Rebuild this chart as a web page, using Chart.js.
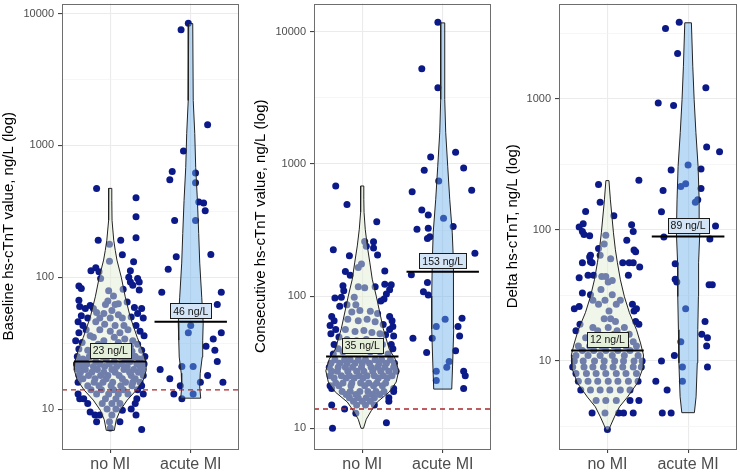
<!DOCTYPE html>
<html><head><meta charset="utf-8">
<script src="https://cdn.jsdelivr.net/npm/chart.js@4.4.1/dist/chart.umd.min.js"></script>
<style>
html,body{margin:0;padding:0;background:#fff;}
#wrap{position:relative;width:740px;height:473px;overflow:hidden;background:#fff;}
canvas{position:absolute;top:0;}
</style></head><body>
<div id="wrap">
<canvas id="c1" width="245" height="473" style="left:0px;width:245px;height:473px"></canvas>
<canvas id="c2" width="250" height="473" style="left:245px;width:250px;height:473px"></canvas>
<canvas id="c3" width="250" height="473" style="left:490px;width:250px;height:473px"></canvas>
</div>
<script>
// ---------- DATA ----------
const categories = ['no MI', 'acute MI'];
const axisTitles = ['Baseline hs-cTnT value, ng/L (log)', 'Consecutive hs-cTnT value, ng/L (log)', 'Delta hs-cTnT, ng/L (log)'];
const yTicksBaseline = [10, 100, 1000, 10000];
const yTicksConsecutive = [10, 100, 1000, 10000];
const yTicksDelta = [10, 100, 1000];
const mediansBaseline = [23, 46];
const mediansConsecutive = [35, 153];
const mediansDelta = [12, 89];
const referenceLimit = 14; // ng/L dashed line (baseline & consecutive)

// points: [jitter offset from category, value ng/L]
const baselineNoMI = [
[-0.17,472],[0.32,400],[0.32,287],[-0.15,191],[0.13,191],[0.32,199],[-0.01,178],[0.15,148],[0.29,131],[-0.01,132],[-0.24,112],[-0.18,118],[-0.14,110],[-0.12,98],[0.25,112],[0.23,100],[0.25,92],[0.28,87],[0.34,98],[-0.39,86],[-0.36,82],[0.16,81],[0.36,80],[-0.02,79],[0.04,72],[-0.39,67],[-0.03,66],[-0.06,62],[0.06,62],[0.10,63],[0.21,65],[-0.31,58],[-0.21,58],[0.30,59],[0.39,58],[0.36,92],
[-0.38,60],[-0.25,61],[-0.17,54],[-0.36,51],[-0.28,49],[0.34,53],[0.41,49],[0.26,50],[0.02,56],[-0.08,53],[0.10,52],[-0.13,49],[0.15,49],[0.00,49],
[-0.40,46],[-0.34,43],[-0.39,38],[-0.30,40],[-0.25,36],[-0.43,33],[-0.35,32],[0.32,43],[0.37,39],[0.42,36],[0.28,33],[0.34,31],[-0.18,46],[-0.07,44],[0.06,43],[0.17,43],[-0.13,40],[0.00,39],[0.12,38],[0.22,40],[-0.21,35],[-0.08,33],[0.05,35],[0.18,34],[-0.15,31],[0.10,32],[0.25,30],
[-0.39,28.5],[-0.41,25],[-0.36,23.5],[0.39,28],[0.43,25],[0.37,23.5],[-0.28,28],[-0.25,25],[0.27,27.5],[0.31,25],[-0.31,23],[0.20,23.5],[-0.13,27],[0.00,26],[0.12,28],
[-0.26,25],[-0.10,25],[0.12,25],[0.30,25],[-0.34,24],[-0.05,24],[0.18,24],[0.36,24],[-0.38,23],[-0.18,23],[0.05,23],[0.25,23],
[-0.42,22],[-0.29,22],[-0.13,22],[-0.01,22],[0.14,22],[0.33,22],[0.42,22],[-0.36,21],[-0.21,21],[-0.07,21],[0.08,21],[0.21,21],[0.37,21],
[-0.40,20],[-0.31,20],[-0.16,20],[0.02,20],[0.17,20],[0.29,20],[0.40,20],[-0.37,19],[-0.23,19],[-0.08,19],[0.06,19],[0.24,19],[0.35,19],
[-0.39,18],[-0.27,18],[-0.12,18],[-0.03,18],[0.11,18],[0.26,18],[0.41,18],[-0.34,17],[-0.19,17],[-0.05,17],[0.15,17],[0.31,17],
[-0.40,16],[-0.20,16],[-0.09,16],[0.03,16],[0.19,16],[0.28,16],[0.37,16],[-0.28,15],[-0.14,15],[0.01,15],[0.13,15],[0.27,15],[0.39,15],
[-0.24,14],[-0.11,14],[0.04,14],[0.16,14],[0.34,14],[-0.40,13],[-0.17,13],[-0.02,13],[0.10,13],[0.22,13],[0.41,13],
[-0.38,12],[-0.33,12],[-0.06,12],[0.07,12],[0.33,12],[-0.28,11],[-0.10,11],[0.02,11],[0.12,11],[0.31,11],
[0.07,10],[0.26,10],[-0.04,10],[-0.19,9],[-0.13,9],[0.02,9],[0.32,9],[-0.25,9.5],[-0.17,8],[0.12,8],[0.15,9.8],[-0.01,8],[0.39,7],[0.00,7.2]
];
const baselineAcuteMI = [
[-0.12,7530],[-0.03,8450],[-0.09,906],[0.21,1436],[-0.23,635],[-0.26,550],[0.06,617],[0.06,521],[0.10,372],[0.16,365],[0.18,320],[-0.20,269],[0.06,269],[-0.18,143],[0.25,149],[-0.28,115],[-0.36,77],[0.38,77],[0.33,62],[0.00,43],[-0.03,38],[0.28,34],[0.38,38],[0.19,30],[0.30,28],[0.33,23],[-0.38,20],[-0.11,21],[0.03,21],[0.21,18],[-0.26,17],[-0.13,15],[0.12,16],[0.40,16],[-0.21,13],[0.03,13],[-0.11,12]
];
const consecutiveNoMI = [
[-0.33,682],[-0.19,493],[0.18,366],[-0.36,224],[-0.16,202],[0.14,258],[0.14,231],[0.19,205],[0.28,155],[-0.21,154],[-0.15,144],[-0.24,120],[-0.23,110],[0.16,118],[0.28,123],[0.36,122],[0.34,112],[0.30,104],[0.27,95],[0.23,92],[-0.34,97],[-0.26,98],[-0.28,84],[-0.19,86],
[0.03,259],[0.05,239],[-0.01,175],[-0.05,165],[-0.05,118],[0.03,116],[-0.10,98],[-0.08,86],
[-0.38,70],[-0.35,65],[-0.40,60],[-0.33,56],[-0.39,52],[-0.29,49],[-0.35,43],[-0.30,40],[-0.36,36.5],
[0.34,70],[0.37,65],[0.38,59],[0.34,56],[0.39,50],[0.36,43],[0.38,40],
[-0.13,76],[-0.03,78],[0.10,77],[0.19,74],[-0.18,67],[-0.05,65],[0.06,67],[0.16,64],[0.26,61],[-0.21,56],[-0.09,54],[0.02,55],[0.12,53],[0.22,52],[0.29,51],[-0.19,47],[-0.07,46],[0.05,47],[0.15,45],[0.25,43],[-0.24,38],[-0.13,40],[-0.02,39],[0.10,38],[0.22,38],[0.32,36.5],
[-0.34,33],[-0.22,33],[-0.15,33],[-0.05,33],[0.04,33],[0.16,33],[0.24,33],[0.35,33],
[-0.39,31],[-0.28,31],[-0.19,31],[-0.09,31],[0.00,31],[0.09,31],[0.21,31],[0.30,31],[0.40,31],
[-0.41,29],[-0.30,29],[-0.21,29],[-0.12,29],[-0.01,29],[0.11,29],[0.19,29],[0.28,29],[0.39,29],
[-0.38,27],[-0.31,27],[-0.18,27],[-0.07,27],[0.02,27],[0.13,27],[0.23,27],[0.33,27],[0.42,27],
[-0.40,25],[-0.26,25],[-0.16,25],[-0.04,25],[0.06,25],[0.15,25],[0.26,25],[0.37,25],
[-0.35,24],[-0.20,24],[-0.10,24],[0.01,24],[0.20,24],[0.31,24],
[-0.33,22],[-0.24,22],[-0.13,22],[-0.02,22],[0.08,22],[0.18,22],[0.29,22],
[-0.29,21],[-0.14,21],[0.03,21],[0.14,21],[0.25,21],
[-0.25,19],[-0.15,19],[-0.03,19],[0.07,19],[0.17,19],[0.27,19],
[-0.20,18],[-0.08,18],[0.12,18],[0.22,18],[-0.16,17],[-0.05,17],[0.05,17],[0.15,17],[-0.11,16],[0.00,16],[0.10,16],[-0.07,15],[0.04,15],
[-0.40,21],[-0.38,20],[0.39,20],[0.39,19],[0.33,17],[0.33,16],[-0.38,15],[-0.22,14],[-0.08,13],[0.15,15],[0.30,11],[-0.37,10]
];
const consecutiveAcuteMI = [
[-0.06,11830],[-0.26,5260],[-0.06,3780],[-0.15,1130],[0.16,1225],[-0.23,896],[0.26,933],[-0.05,744],[-0.38,618],[0.36,632],[-0.26,449],[-0.18,412],[0.01,389],[0.13,337],[-0.32,321],[-0.18,326],[-0.16,282],[-0.19,273],[0.40,211],[-0.39,145],[-0.19,127],[-0.24,108],[-0.18,102],[0.03,67],[-0.08,59],[0.24,68],[0.19,59],[-0.37,48],[-0.13,48],[0.21,50],[-0.20,37.5],[0.16,38.6],[0.08,32],[0.05,29],[-0.08,27],[0.26,27],[0.28,25],[0.26,20],[-0.08,23]
];
const deltaNoMI = [
[-0.11,221],[-0.09,162],[0.39,238],[-0.27,138],[0.08,128],[0.30,109],[0.32,97],[-0.02,91],[-0.35,105],[-0.30,111],[-0.31,97],[-0.29,92],[-0.22,90],[0.24,83],[-0.04,78],[-0.21,64],[-0.22,62],[0.33,70],[0.35,68],[-0.09,64],[-0.11,72],
[-0.31,56],[-0.21,57],[-0.19,56],[0.19,56],[0.27,56],[0.32,56],[0.40,52],[-0.35,43],[-0.24,45],[-0.17,45],[0.26,45],[-0.31,33],[-0.21,32],[-0.18,29],[-0.41,25],[-0.35,26],[0.31,27],[0.33,24],[0.36,25],[0.35,20],[0.39,19],[-0.34,19],[-0.39,17],
[0.04,60],[-0.07,44],[-0.02,44],[0.06,41],[0.02,24],[-0.04,21],[0.04,21],[0.10,20],[-0.18,18],[-0.12,17],[0.01,18],[0.12,17],[0.21,18],[-0.27,15],[-0.19,14],[-0.10,15],[-0.02,15],[0.08,16],[0.19,15],[0.27,16],[0.32,14],[-0.08,35],[0.06,32],[-0.03,29],[-0.11,27],[0.11,27],[0.01,40],[0.16,29],
[-0.36,13],[-0.22,13],[-0.07,13],[0.08,13],[0.23,13],[0.36,13],
[-0.31,12],[-0.17,12],[-0.02,12],[0.13,12],[0.28,12],
[-0.39,11],[-0.24,11],[-0.09,11],[0.06,11],[0.21,11],[0.38,11],
[-0.41,10],[-0.30,10],[-0.16,10],[-0.04,10],[0.09,10],[0.20,10],[0.33,10],[0.43,10],
[-0.43,9],[-0.29,9],[-0.18,9],[-0.05,9],[0.07,9],[0.19,9],[0.32,9],[0.42,9],
[-0.39,8],[-0.26,8],[-0.14,8],[-0.02,8],[0.11,8],[0.23,8],[0.36,8],
[-0.36,7],[-0.24,7],[-0.12,7],[0.01,7],[0.13,7],[0.26,7],[0.38,7],
[-0.33,6],[-0.21,6],[-0.09,6],[0.03,6],[0.16,6],[0.28,6],
[-0.14,5],[-0.02,5],[0.11,5],[0.28,5],[0.39,5],
[-0.19,4],[-0.03,4],[0.14,4],[0.20,4],[0.32,4],[0.00,3]
];
const deltaAcuteMI = [
[-0.11,3820],[-0.28,3420],[-0.13,2210],[0.22,1210],[-0.37,927],[-0.18,885],[0.23,428],[0.39,394],[-0.21,286],[0.00,312],[0.16,291],[-0.31,199],[-0.09,214],[-0.03,224],[0.16,206],[0.09,162],[0.12,169],[-0.33,137],[0.34,107],[-0.30,88],[0.27,85],[-0.16,55],[-0.16,42],[-0.14,40],[0.26,38],[0.30,38],[-0.03,25],[0.21,20],[0.17,16],[0.24,15],[0.23,13],[-0.09,14],[-0.17,11],[-0.33,10],[-0.07,9],[0.24,9],[-0.40,7],[-0.26,6],[-0.07,7],[-0.32,4],[-0.21,4]
];

// violin outlines: values (ng/L, top to bottom) and half widths (category units)
const baselineNoMIViolinY = [472,383,270,191,160,135,100,71,50,35,28,22.8,19.7,16.6,13.9,11.7,9.8,8.3,6.9];
const baselineNoMIViolinW = [0.019,0.019,0.022,0.043,0.062,0.083,0.137,0.186,0.248,0.335,0.398,0.441,0.447,0.410,0.323,0.211,0.124,0.075,0.050];
const baselineAcuteViolinY = [8400,2190,1233,681,383,215,128,70.5,44.9,33.3,24.8,18.7,14.7,12.1];
const baselineAcuteViolinW = [0.025,0.031,0.050,0.062,0.083,0.099,0.112,0.137,0.155,0.149,0.143,0.118,0.112,0.124];
const consecutiveNoMIViolinY = [682,541,431,321,240,181,134.5,100,56.6,39.7,33.4,27.2,22.4,18.8,15.8,13.6,11.7,10];
const consecutiveNoMIViolinW = [0.019,0.019,0.022,0.037,0.062,0.093,0.124,0.174,0.261,0.335,0.410,0.453,0.422,0.335,0.186,0.112,0.050,0.015];
const consecutiveAcuteViolinY = [11700,3080,1740,962,541,305,181,100,56.4,31.7,19.8];
const consecutiveAcuteViolinW = [0.025,0.025,0.037,0.062,0.087,0.118,0.130,0.137,0.137,0.124,0.112];
const deltaNoMIViolinY = [237,169,94.8,70.3,56,41.5,30.8,23.3,17.3,13.7,11.1,8.85,6.8,5.3,4.46,3.74,3.25,2.97];
const deltaNoMIViolinW = [0.019,0.037,0.075,0.099,0.124,0.161,0.211,0.273,0.360,0.410,0.447,0.441,0.373,0.248,0.149,0.087,0.043,0.015];
const deltaAcuteViolinY = [3785,1766,982,550,303,169,94.8,56,31,17.3,9.66,5.33,4.03];
const deltaAcuteViolinW = [0.041,0.058,0.075,0.097,0.124,0.137,0.145,0.130,0.128,0.120,0.114,0.099,0.078];

// ---------- STYLE ----------
const FONT = '"Liberation Sans", Arial, Helvetica, sans-serif';
const DARK = '#0b1a88';
const VIOLIN_FILL = ['rgba(224,236,212,0.48)', 'rgba(105,172,235,0.45)'];
const LABEL_FILL = ['#E4EFDA', '#D3E4F6'];

function violinPolygon(center, ys, ws) {
  const pts = [];
  for (let i = 0; i < ys.length; i++) pts.push({x: center - ws[i], y: ys[i]});
  for (let i = ys.length - 1; i >= 0; i--) pts.push({x: center + ws[i], y: ys[i]});
  pts.push({x: center - ws[0], y: ys[0]});
  return pts;
}

const panelPlugin = {
  id: 'panelDecor',
  afterDatasetsDraw(chart, args, opts) {
    const {ctx, chartArea: a} = chart;
    const xs = chart.scales.x, ys = chart.scales.y;
    ctx.save();
    ctx.font = '10.5px ' + FONT;
    (opts.medians || []).forEach((m, gi) => {
      const px = xs.getPixelForValue(gi + 1);
      const py = ys.getPixelForValue(m) - 11;
      const text = m + ' ng/L';
      const w = ctx.measureText(text).width + 6, h = 14.5;
      ctx.fillStyle = LABEL_FILL[gi];
      ctx.fillRect(Math.round(px - w / 2) + 0.5, Math.round(py - h / 2) + 0.5, Math.round(w), Math.round(h));
      ctx.strokeStyle = '#1a1a1a'; ctx.lineWidth = 1;
      ctx.strokeRect(Math.round(px - w / 2) + 0.5, Math.round(py - h / 2) + 0.5, Math.round(w), Math.round(h));
      ctx.fillStyle = '#111';
      ctx.textAlign = 'center'; ctx.textBaseline = 'middle';
      ctx.fillText(text, px, py + 1);
    });
    ctx.strokeStyle = '#6e6e6e'; ctx.lineWidth = 1;
    ctx.strokeRect(Math.round(a.left) + 0.5, Math.round(a.top) + 0.5, Math.round(a.right - a.left) - 1, Math.round(a.bottom - a.top) - 1);
    ctx.restore();
  }
};

function buildPanel(id, p) {
  const ds = [];
  p.points.forEach((grp, gi) => ds.push({
    type: 'scatter', data: grp.map(([j, v]) => ({x: gi + 1 + j, y: v})),
    pointRadius: 3.5, pointHoverRadius: 3.5, backgroundColor: DARK, borderWidth: 0, order: 10
  }));
  p.violins.forEach((vl, gi) => ds.push({
    type: 'line', data: violinPolygon(gi + 1, vl[0], vl[1]), fill: 'shape',
    backgroundColor: VIOLIN_FILL[gi], borderColor: '#222', borderWidth: 1, pointRadius: 0, tension: 0, order: 8
  }));
  if (p.ref != null) ds.push({
    type: 'line', data: [{x: 0.4, y: p.ref}, {x: 2.6, y: p.ref}], borderColor: '#A8282B',
    borderDash: [5, 4], borderWidth: 1.3, pointRadius: 0, fill: false, order: 6
  });
  p.medians.forEach((m, gi) => ds.push({
    type: 'line', data: [{x: gi + 1 - 0.45, y: m}, {x: gi + 1 + 0.45, y: m}], borderColor: '#000',
    borderWidth: 2, pointRadius: 0, fill: false, order: 4
  }));
  const majors = p.yTicks;
  const tickVals = [];
  majors.forEach(v => { tickVals.push(v / Math.sqrt(10)); tickVals.push(v); tickVals.push(v * Math.sqrt(10)); });
  const allTicks = [...new Set(tickVals.map(v => +v.toPrecision(6)))].filter(v => v >= p.yMin && v <= p.yMax).sort((a, b) => a - b);
  const isMajor = v => majors.some(m => Math.abs(m - v) / m < 1e-6);
  new Chart(document.getElementById(id), {
    type: 'scatter',
    data: {datasets: ds},
    plugins: [panelPlugin],
    options: {
      responsive: false, animation: false, devicePixelRatio: 1,
      events: [],
      layout: {padding: {left: p.padLeft, right: p.padRight, top: 3, bottom: 0}},
      plugins: {legend: {display: false}, tooltip: {enabled: false}, panelDecor: {medians: p.medians}},
      scales: {
        x: {
          type: 'linear', min: 0.4, max: 2.6,
          afterBuildTicks: s => { s.ticks = [{value: 1}, {value: 2}]; },
          afterFit: s => { s.height = 24; s.paddingLeft = 0; s.paddingRight = 0; },
          ticks: {callback: v => categories[v - 1], font: {family: FONT, size: 16}, color: '#4D4D4D', padding: 2, maxRotation: 0, autoSkip: false},
          grid: {color: '#EBEBEB', lineWidth: 1.1, tickColor: '#444', tickLength: 4},
          border: {display: false}
        },
        y: {
          type: 'logarithmic', min: p.yMin, max: p.yMax,
          afterBuildTicks: s => { s.ticks = allTicks.map(v => ({value: v})); },
          afterFit: s => { s.width = p.axisW; s.paddingTop = 0; s.paddingBottom = 0; },
          ticks: {callback: v => isMajor(v) ? String(Math.round(v)) : '', font: {family: FONT, size: 11}, color: '#4D4D4D', padding: 4, autoSkip: false},
          grid: {
            color: c => (c.tick && isMajor(c.tick.value)) ? '#EBEBEB' : '#F2F2F2',
            lineWidth: c => (c.tick && isMajor(c.tick.value)) ? 1.1 : 0.7,
            tickColor: c => (c.tick && isMajor(c.tick.value)) ? '#444' : 'rgba(0,0,0,0)',
            tickLength: 4
          },
          border: {display: false},
          title: {display: true, text: p.title, font: {family: FONT, size: 15}, color: '#000', padding: {top: 0, bottom: 0}}
        }
      }
    }
  });
}

buildPanel('c1', {
  title: axisTitles[0], yTicks: yTicksBaseline, yMin: 4.98, yMax: 11920,
  points: [baselineNoMI, baselineAcuteMI],
  violins: [[baselineNoMIViolinY, baselineNoMIViolinW], [baselineAcuteViolinY, baselineAcuteViolinW]],
  medians: mediansBaseline, ref: referenceLimit, padLeft: 0, axisW: 62, padRight: 6
});
buildPanel('c2', {
  title: axisTitles[1], yTicks: yTicksConsecutive, yMin: 6.97, yMax: 16400,
  points: [consecutiveNoMI, consecutiveAcuteMI],
  violins: [[consecutiveNoMIViolinY, consecutiveNoMIViolinW], [consecutiveAcuteViolinY, consecutiveAcuteViolinW]],
  medians: mediansConsecutive, ref: referenceLimit, padLeft: 6.4, axisW: 62.6, padRight: 4
});
buildPanel('c3', {
  title: axisTitles[2], yTicks: yTicksDelta, yMin: 2.13, yMax: 5310,
  points: [deltaNoMI, deltaAcuteMI],
  violins: [[deltaNoMIViolinY, deltaNoMIViolinW], [deltaAcuteViolinY, deltaAcuteViolinW]],
  medians: mediansDelta, ref: null, padLeft: 13.4, axisW: 55.6, padRight: 1
});
</script>
</body></html>
